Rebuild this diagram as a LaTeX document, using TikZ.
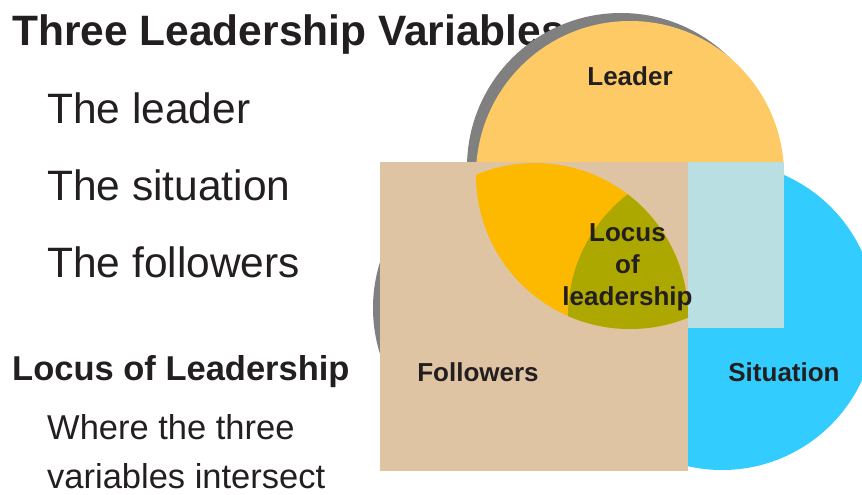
\documentclass[tikz,border=0pt]{standalone}
\usepackage{fontspec}
\setmainfont{Liberation Sans}
\usepackage{tikz}
\usetikzlibrary{positioning}
\definecolor{leaderorange}{HTML}{FECA66}
\definecolor{shadowgray}{HTML}{808080}
\definecolor{followertan}{HTML}{DFC4A4}
\definecolor{palecyan}{HTML}{B9DFE3}
\definecolor{situationcyan}{HTML}{33CCFF}
\definecolor{lensyellow}{HTML}{FDB900}
\definecolor{locusolive}{HTML}{ADA800}
\definecolor{inkblack}{HTML}{231F20}
\tikzset{>=stealth,
  heading/.style={anchor=base west, inner sep=0pt, text=inkblack, font=\bfseries\fontsize{42.5}{50}\selectfont},
  bullet/.style={anchor=base west, inner sep=0pt, text=inkblack, font=\fontsize{42.5}{50}\selectfont},
  subheading/.style={anchor=base west, inner sep=0pt, text=inkblack, font=\bfseries\fontsize{34.5}{40}\selectfont},
  subbullet/.style={anchor=base west, inner sep=0pt, text=inkblack, font=\fontsize{34.5}{40}\selectfont},
  lbl/.style={anchor=base, inner sep=0pt, text=inkblack, font=\bfseries\fontsize{26}{31}\selectfont}}

\begin{document}
\begin{tikzpicture}[x=1pt, y=-1pt]
\useasboundingbox (0,0) rectangle (862,495);
\node[heading] (title) at (12,46) {Three Leadership Variables};
\node[bullet] (theleader) at (47,123) {The leader};
\node[bullet] (thesituation) at (47,200) {The situation};
\node[bullet] (thefollowers) at (47,277) {The followers};
\node[subheading] (locushead) at (12,380) {Locus of Leadership};
\node[subbullet] (where) at (47,439) {Where the three};
\node[subbullet] (intersect) at (47,488) {variables intersect};
\coordinate (leaderc) at (630,175);
\coordinate (followc) at (535,316);
\coordinate (situc) at (722,316);
\fill[shadowgray]([shift={(-9,-8)}]leaderc) circle[radius=154pt];
\fill[shadowgray]([shift={(-9,-8)}]followc) circle[radius=153pt];
\fill[leaderorange](leaderc) circle[radius=154pt];
\fill[situationcyan](situc) circle[radius=154pt];
\fill[followertan](followc) circle[radius=153pt];
\fill[followertan](380,162) rectangle (688,471);
\fill[palecyan](688,162) rectangle (784,328);
\begin{scope}
\clip (leaderc) circle[radius=154pt];
\fill[lensyellow](followc) circle[radius=153pt];
\clip (followc) circle[radius=153pt];
\fill[locusolive](situc) circle[radius=154pt];
\end{scope}
\node[lbl] (leaderlbl) at (630,85) {Leader};
\node[lbl] (followlbl) at (478,381) {Followers};
\node[lbl] (situlbl) at (784,381) {Situation};
\node[lbl] (locus) at (627.5,241.7) {Locus};
\node[lbl] (locusof) at ([yshift=-32pt]locus.base) {of};
\node[lbl] (locuslead) at ([yshift=-32pt]locusof.base) {leadership};
\end{tikzpicture}
\end{document}
